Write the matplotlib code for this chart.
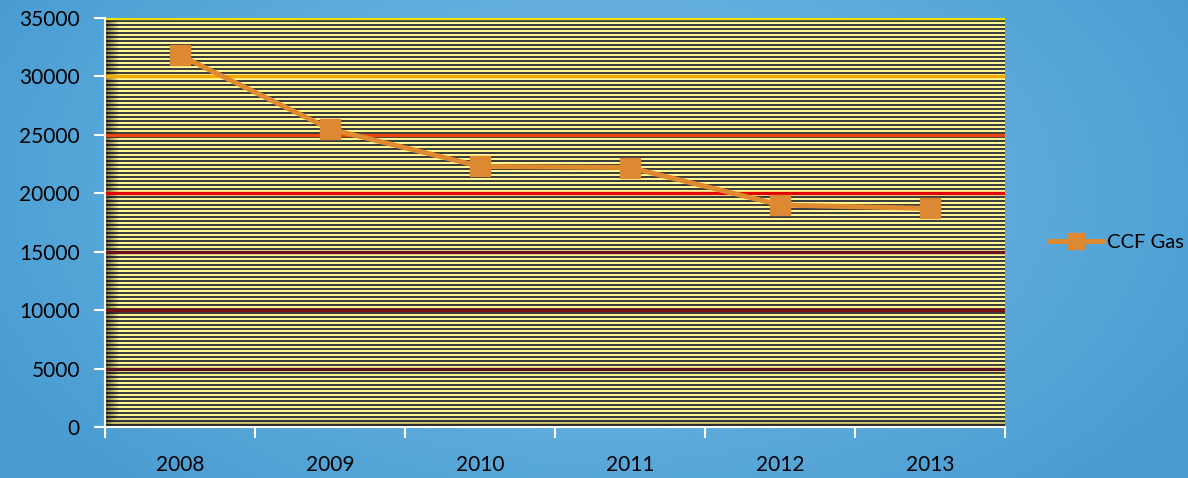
import matplotlib
matplotlib.use("Agg")
import matplotlib.pyplot as plt
import numpy as np

years = ["2008", "2009", "2010", "2011", "2012", "2013"]
ccf_gas = [31800, 25500, 22300, 22200, 19000, 18700]
y_ticks = [0, 5000, 10000, 15000, 20000, 25000, 30000, 35000]
grid_colors = {5000: "#541424", 10000: "#741010", 15000: "#6a1020",
               20000: "#e00000", 25000: "#e84810", 30000: "#f0a800",
               35000: "#f0e000"}

plt.rcParams['font.family'] = ['Lato', 'DejaVu Sans']

W, H, DPI = 1188, 478, 100
fig = plt.figure(figsize=(W / DPI, H / DPI), dpi=DPI)

# blue radial background
bg = fig.add_axes([0, 0, 1, 1], zorder=-10)
yy, xx = np.mgrid[0:H, 0:W]
r = np.sqrt(((xx - 600) / 700.0) ** 2 + ((yy - 190) / 420.0) ** 2)
r = np.clip(r, 0, 1)
c_in = np.array([0x7a, 0xbe, 0xe8]) / 255.0
c_out = np.array([0x48, 0x9c, 0xd2]) / 255.0
img = c_in[None, None, :] * (1 - r[..., None]) + c_out[None, None, :] * r[..., None]
bg.imshow(img, aspect='auto', extent=[0, 1, 0, 1])
bg.axis('off')

# plot area
left, right, top, bottom = 105, 1005, 18, 427
ax = fig.add_axes([left / W, 1 - bottom / H, (right - left) / W, (bottom - top) / H])

# striped fill with inner shadow
ph = bottom - top
pw = right - left
rows = np.arange(ph)
yel = np.array([1.0, 0.97, 0.58])
dark = np.array([0.24, 0.24, 0.24])
stripe = np.where(((rows // 2) % 2 == 0)[:, None], yel, dark)
fill = np.repeat(stripe[:, None, :], pw, axis=1)
cols = np.arange(pw)
shade_x = np.clip(1 - cols / 14.0, 0, 1) * 0.55
shade_y = np.clip(1 - (ph - 1 - rows) / 10.0, 0, 1) * 0.35
shade = np.maximum(shade_x[None, :], shade_y[:, None])
fill = fill * (1 - shade[..., None])
ax.imshow(fill, aspect='auto', extent=[-0.5, 5.5, 0, 35000], zorder=0,
          interpolation='none')

for v, c in grid_colors.items():
    ax.axhline(v, color=c, lw=2.4, zorder=1)

x = np.arange(len(years))
ax.plot(x, ccf_gas, color="#e08a30", lw=3.6, marker='s', markersize=14.5,
        markerfacecolor="#dd8833", markeredgecolor="#dd8833", zorder=3,
        label="CCF Gas")

ax.set_xlim(-0.5, 5.5)
ax.set_ylim(0, 35000)
ax.set_yticks(y_ticks)
ax.set_xticks(x)
ax.set_xticklabels(years)
ax.set_xticks(np.arange(-0.5, 6.0, 1.0), minor=True)
ax.tick_params(axis='x', which='major', length=0, pad=20, labelsize=15)
ax.tick_params(axis='x', which='minor', length=8, width=1.5, color='white')
ax.tick_params(axis='y', length=8, width=1.5, color='white', pad=10, labelsize=15)
for s in ['top', 'right']:
    ax.spines[s].set_visible(False)
for s in ['left', 'bottom']:
    ax.spines[s].set_color('white')
    ax.spines[s].set_linewidth(1.5)

leg = ax.legend(loc='center left', bbox_to_anchor=(1.03, 0.45), frameon=False,
                fontsize=14.5, handlelength=2.6, handletextpad=0.2, markerscale=0.75)

fig.savefig("out.png", dpi=DPI)
